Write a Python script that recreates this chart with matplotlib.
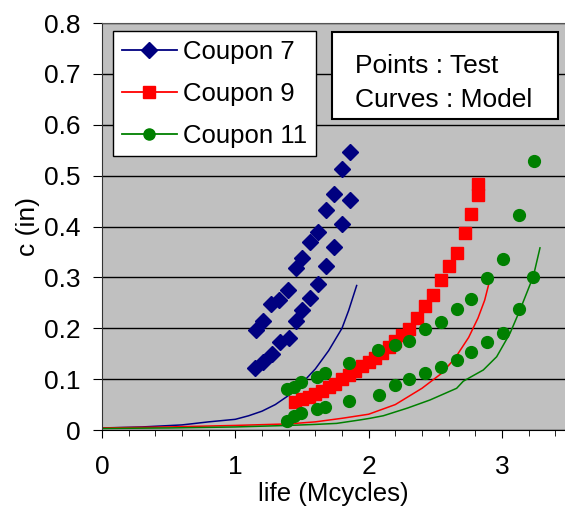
import matplotlib
matplotlib.use("Agg")
import matplotlib.pyplot as plt
from matplotlib.lines import Line2D
from matplotlib.patches import Rectangle

plt.rcParams['font.family'] = ['Liberation Sans', 'DejaVu Sans']

# test points (markers)
c7_x = [1.155, 1.21, 1.265, 1.33, 1.395, 1.455, 1.50, 1.56, 1.62, 1.68, 1.74, 1.80, 1.86,
        1.15, 1.21, 1.275, 1.335, 1.40, 1.455, 1.50, 1.56, 1.62, 1.68, 1.74, 1.80, 1.86]
c7_y = [0.196, 0.215, 0.248, 0.255, 0.275, 0.318, 0.338, 0.369, 0.39, 0.432, 0.464, 0.514, 0.546,
        0.121, 0.134, 0.149, 0.173, 0.180, 0.215, 0.236, 0.26, 0.287, 0.322, 0.359, 0.405, 0.453]

c9_x = [1.45, 1.50, 1.55, 1.60, 1.65, 1.70, 1.75, 1.80, 1.85, 1.90, 1.95, 2.00, 2.05, 2.10,
        2.15, 2.20, 2.25, 2.30, 2.36, 2.42, 2.48, 2.54, 2.60, 2.66, 2.72, 2.77, 2.82, 2.82]
c9_y = [0.055, 0.060, 0.065, 0.071, 0.077, 0.084, 0.091, 0.100, 0.108, 0.116, 0.125, 0.133, 0.142, 0.152,
        0.163, 0.174, 0.186, 0.199, 0.221, 0.243, 0.265, 0.295, 0.322, 0.348, 0.388, 0.424, 0.462, 0.483]

c11_x = [1.39, 1.44, 1.49, 1.61, 1.67, 1.85, 2.07, 2.20, 2.30, 2.42, 2.54, 2.66, 2.77, 2.885, 3.005, 3.13, 3.24,
         1.39, 1.44, 1.49, 1.61, 1.67, 1.85, 2.08, 2.20, 2.30, 2.42, 2.54, 2.66, 2.77, 2.885, 3.005, 3.13, 3.235]
c11_y = [0.080, 0.084, 0.095, 0.104, 0.112, 0.131, 0.157, 0.167, 0.174, 0.198, 0.213, 0.238, 0.258, 0.298, 0.336, 0.422, 0.529,
         0.018, 0.028, 0.034, 0.042, 0.046, 0.057, 0.069, 0.089, 0.100, 0.112, 0.124, 0.137, 0.154, 0.172, 0.19, 0.238, 0.301]

# model curves
m7_x = [0, 0.3, 0.6, 0.8, 1.0, 1.1, 1.2, 1.3, 1.4, 1.5, 1.6, 1.7, 1.8, 1.85, 1.91]
m7_y = [0.004, 0.006, 0.01, 0.016, 0.021, 0.028, 0.037, 0.05, 0.068, 0.092, 0.12, 0.156, 0.2, 0.235, 0.284]

m9_x = [0, 0.5, 1.0, 1.4, 1.6, 1.8, 2.0, 2.2, 2.4, 2.55, 2.65, 2.75, 2.82, 2.87, 2.90]
m9_y = [0.004, 0.006, 0.009, 0.012, 0.016, 0.023, 0.031, 0.05, 0.082, 0.112, 0.142, 0.182, 0.22, 0.255, 0.286]

m11_x = [0, 0.5, 1.0, 1.4, 1.6, 1.76, 1.94, 2.01, 2.11, 2.29, 2.46, 2.66, 2.71, 2.86, 2.96, 3.06, 3.135, 3.235, 3.285]
m11_y = [0.003, 0.004, 0.006, 0.009, 0.011, 0.013, 0.02, 0.023, 0.028, 0.043, 0.059, 0.082, 0.096, 0.118, 0.144, 0.19, 0.236, 0.302, 0.358]

labels = ["Coupon 7", "Coupon 9", "Coupon 11"]
colors = ["#000080", "#FF0000", "#008000"]
markers = ["D", "s", "o"]

fig = plt.figure(figsize=(5.65, 5.11), dpi=100)
ax = fig.add_axes([102 / 565, 81 / 511, 463 / 565, 407 / 511])
ax.set_facecolor("#C0C0C0")

for mx, my, c in zip([m7_x, m9_x, m11_x], [m7_y, m9_y, m11_y], colors):
    ax.plot(mx, my, color=c, lw=1.1, zorder=2)

ms = [8.0, 8.5, 8.5]
for tx, ty, c, m, s in zip([c7_x, c9_x, c11_x], [c7_y, c9_y, c11_y], colors, markers, ms):
    ax.plot(tx, ty, ls="none", marker=m, ms=s, color=c, mec=c, zorder=3)

ax.set_xlim(0, 463 / 133.33)
ax.set_ylim(0, 0.8)
ax.set_xticks([0, 1, 2, 3])
ax.set_xticklabels(["0", "1", "2", "3"])
ax.set_xticks([i * 0.2 for i in range(18)], minor=True)
ax.set_yticks([i * 0.1 for i in range(9)])
ax.set_yticklabels(["0", "0.1", "0.2", "0.3", "0.4", "0.5", "0.6", "0.7", "0.8"])
ax.tick_params(axis="both", labelsize=19, direction="out", color="black")
ax.tick_params(axis="x", which="major", length=6, pad=12)
ax.tick_params(axis="x", which="minor", length=4)
ax.tick_params(axis="y", length=6.5, pad=9)
ax.grid(axis="y", color="black", lw=1)
ax.set_axisbelow(True)
ax.spines["right"].set_visible(False)
ax.spines["top"].set_color("#555555")
ax.spines["left"].set_color("#333333")
ax.spines["bottom"].set_color("black")

ax.set_xlabel("life (Mcycles)", fontsize=18.5, labelpad=2)
ax.set_ylabel("c (in)", fontsize=19, labelpad=3)

handles = [Line2D([0], [0], color=c, marker=m, ms=8, lw=1.3) for c, m in zip(colors, markers)]
leg = ax.legend(handles, labels, loc="upper left", bbox_to_anchor=(0.024, 0.98), borderaxespad=0,
                fontsize=18.5, handlelength=2.15, handletextpad=0.25, labelspacing=0.7,
                borderpad=0.33, fancybox=False, framealpha=1, edgecolor="black")
leg.get_frame().set_linewidth(1)

ax.add_patch(Rectangle((0.497, 0.765), 0.488, 0.213, transform=ax.transAxes,
                       facecolor="white", edgecolor="black", lw=1.5, zorder=5))
ax.text(0.546, 0.895, "Points : Test", transform=ax.transAxes, fontsize=19, va="center", zorder=6)
ax.text(0.546, 0.812, "Curves : Model", transform=ax.transAxes, fontsize=19, va="center", zorder=6)

fig.savefig("out.png", dpi=100)
